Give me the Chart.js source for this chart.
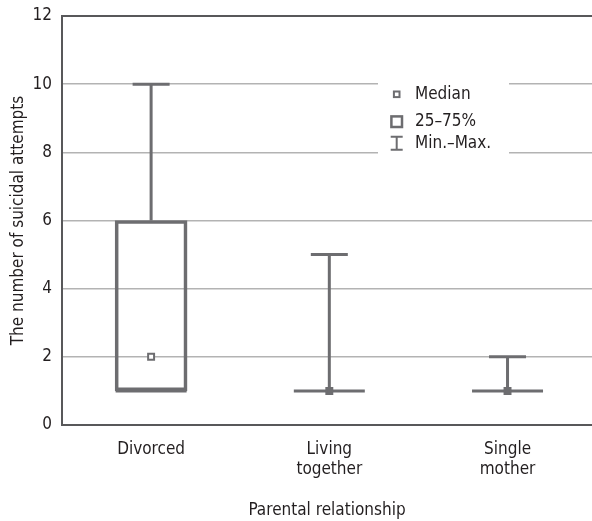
<!DOCTYPE html>
<html>
<head>
<meta charset="utf-8">
<script src="https://cdn.jsdelivr.net/npm/chart.js@4.4.1/dist/chart.umd.min.js"></script>
<style>
  html, body { margin: 0; padding: 0; background: #fff; }
  #wrap { width: 592px; height: 521px; position: relative; }
</style>
</head>
<body>
<div id="wrap"><canvas id="chart"></canvas></div>
<script>
/** Box plot of suicidal attempts by parental relationship. */

const categories = [['Divorced'], ['Living', 'together'], ['Single', 'mother']];
const minValues = [1, 1, 1];
const q1Values = [1, 1, 1];
const medianValues = [2, 1, 1];
const q3Values = [6, 1, 1];
const maxValues = [10, 5, 2];
const legendLabels = ['Median', '25\u201375%', 'Min.\u2013Max.'];

const FONT = '"Liberation Sans Narrow", "DejaVu Sans Condensed", sans-serif';
const FONT_SIZE = 17;
const INK = '#231f20';
const STROKE = '#6d6d70';
const AXIS = '#58585a';
const GRID = '#b3b3b3';

const positions = categories.map((c, i) => i + 1);

// whisker segments: q3 -> max and min -> q1, separated by gaps
const whiskerData = [];
positions.forEach((x, i) => {
    whiskerData.push({x, y: q3Values[i]}, {x, y: maxValues[i]}, {x, y: null});
    whiskerData.push({x, y: minValues[i]}, {x, y: q1Values[i]}, {x, y: null});
});

/**
 * Draws the legend box inside the plot, over the grid lines.
 */
const boxLegend = {
    id: 'boxLegend',
    beforeDatasetsDraw(chart) {
        const ctx = chart.ctx;
        const left = 378, top = 79;
        ctx.save();
        ctx.fillStyle = '#fff';
        ctx.fillRect(left, top, 131, 78);
        ctx.strokeStyle = STROKE;
        const cx = 396.7;
        const rows = [94.3, 121.7, 143.3];
        // median
        ctx.lineWidth = 2;
        ctx.strokeRect(cx - 2.8, rows[0] - 2.8, 5.6, 5.6);
        // 25-75%
        ctx.lineWidth = 2.5;
        ctx.strokeRect(cx - 5.3, rows[1] - 5.3, 10.6, 10.6);
        // min-max
        ctx.lineWidth = 2;
        ctx.beginPath();
        ctx.moveTo(cx - 6, rows[2] - 6.5); ctx.lineTo(cx + 6, rows[2] - 6.5);
        ctx.moveTo(cx, rows[2] - 6.5); ctx.lineTo(cx, rows[2] + 6.5);
        ctx.moveTo(cx - 6, rows[2] + 6.5); ctx.lineTo(cx + 6, rows[2] + 6.5);
        ctx.stroke();
        ctx.fillStyle = INK;
        ctx.font = FONT_SIZE + 'px ' + FONT;
        ctx.textBaseline = 'middle';
        legendLabels.forEach((t, i) => ctx.fillText(t, 415, rows[i]));
        ctx.restore();
    }
};

function main() {
    const context = document.getElementById('chart');
    new Chart(context, {
        type: 'bar',
        data: {
            datasets: [
                {
                    type: 'scatter',
                    label: 'Median',
                    data: positions.map((x, i) => ({x, y: medianValues[i]})),
                    pointStyle: 'rect',
                    pointRadius: 4.2,
                    borderWidth: 2,
                    borderColor: STROKE,
                    backgroundColor: ['#fff', STROKE, STROKE]
                },
                {
                    type: 'scatter',
                    label: 'Max',
                    data: positions.map((x, i) => ({x, y: maxValues[i]})),
                    pointStyle: 'line',
                    pointRadius: 18.5,
                    borderWidth: 3,
                    borderColor: STROKE
                },
                {
                    type: 'scatter',
                    label: 'Min',
                    data: positions.map((x, i) => ({x, y: minValues[i]})),
                    pointStyle: 'line',
                    pointRadius: 35.5,
                    borderWidth: 3,
                    borderColor: STROKE
                },
                {
                    type: 'line',
                    label: 'Whiskers',
                    data: whiskerData,
                    borderColor: STROKE,
                    borderWidth: 3,
                    pointRadius: 0,
                    spanGaps: false
                },
                {
                    label: '25\u201375%',
                    data: positions.map((x, i) => ({x, y: [q1Values[i], q3Values[i]]})),
                    barThickness: 72,
                    borderWidth: 3,
                    borderSkipped: false,
                    borderColor: STROKE,
                    backgroundColor: 'rgba(0,0,0,0)'
                }
            ]
        },
        options: {
            responsive: true,
            maintainAspectRatio: false,
            animation: false,
            layout: { autoPadding: false, padding: { top: 16, right: 0, left: 0, bottom: 0 } },
            plugins: {
                legend: { display: false },
                tooltip: { enabled: false }
            },
            scales: {
                x: {
                    type: 'linear',
                    offset: false,
                    min: 0.5,
                    max: 3.474,
                    afterBuildTicks: axis => { axis.ticks = positions.map(v => ({value: v})); },
                    afterFit: scale => { scale.height = 96; },
                    grid: { display: false },
                    border: { display: true, color: AXIS, width: 2 },
                    ticks: {
                        callback: value => categories[value - 1],
                        color: INK,
                        font: { family: FONT, size: FONT_SIZE },
                        padding: 6,
                        maxRotation: 0
                    },
                    title: {
                        display: true,
                        text: 'Parental relationship',
                        color: INK,
                        font: { family: FONT, size: FONT_SIZE },
                        padding: { top: 0, bottom: 0 }
                    }
                },
                y: {
                    min: 0,
                    max: 12,
                    afterFit: scale => {
                        scale.width = 62;
                        scale.paddingTop = 0;
                        scale.paddingBottom = 0;
                    },
                    ticks: {
                        stepSize: 2,
                        color: INK,
                        font: { family: FONT, size: FONT_SIZE },
                        padding: 10
                    },
                    grid: {
                        drawTicks: false,
                        color: c => c.tick.value === 12 ? AXIS : (c.tick.value === 0 ? 'rgba(0,0,0,0)' : GRID),
                        lineWidth: c => c.tick.value === 12 ? 2 : 1.5
                    },
                    border: { display: true, color: AXIS, width: 2 },
                    title: {
                        display: true,
                        text: 'The number of suicidal attempts',
                        color: INK,
                        font: { family: FONT, size: FONT_SIZE },
                        padding: { top: 8, bottom: 0 }
                    }
                }
            }
        },
        plugins: [boxLegend]
    });
}

window.onload = main;
</script>
</body>
</html>
